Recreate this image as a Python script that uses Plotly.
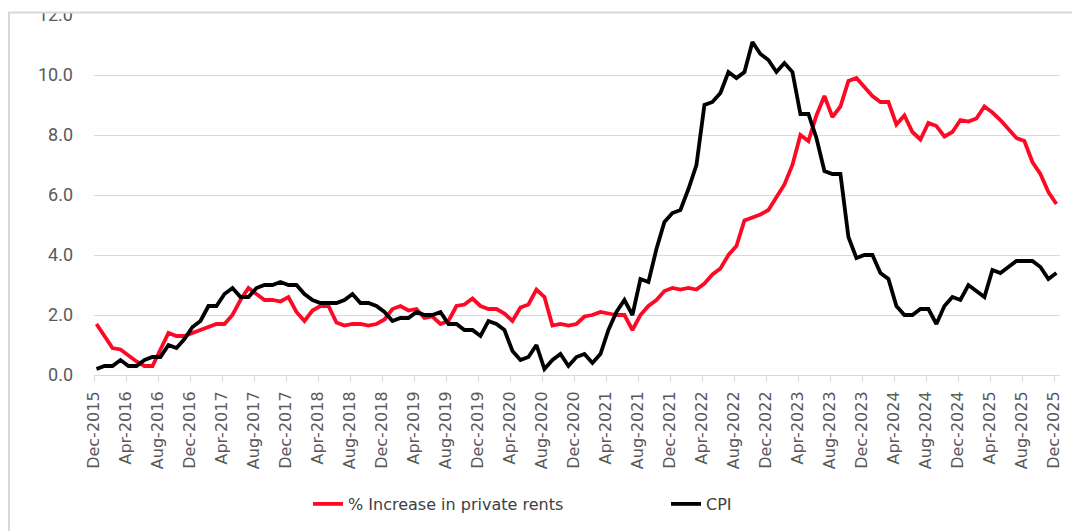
import plotly.graph_objects as go

# Monthly series, Dec-2015 .. Dec-2025 (121 months)
rents = [
    1.7, 1.3, 0.9, 0.85, 0.65, 0.45, 0.3, 0.3, 0.85, 1.4, 1.3, 1.3,
    1.4, 1.5, 1.6, 1.7, 1.7, 2.0, 2.5, 2.9, 2.7, 2.5, 2.5, 2.45,
    2.6, 2.1, 1.8, 2.15, 2.3, 2.3, 1.75, 1.65, 1.7, 1.7, 1.65, 1.7,
    1.85, 2.2, 2.3, 2.15, 2.2, 1.9, 1.95, 1.7, 1.8, 2.3, 2.35, 2.55,
    2.3, 2.2, 2.2, 2.05, 1.8, 2.25, 2.35, 2.85, 2.6, 1.65, 1.7, 1.65,
    1.7, 1.95, 2.0, 2.1, 2.05, 2.0, 2.0, 1.5, 2.0, 2.3, 2.5, 2.8,
    2.9, 2.85, 2.9, 2.85, 3.05, 3.35, 3.55, 4.0, 4.3, 5.15, 5.25, 5.35,
    5.5, 5.9, 6.35, 7.0, 8.0, 7.8, 8.65, 9.3, 8.6, 8.95, 9.8, 9.9,
    9.6, 9.3, 9.1, 9.1, 8.35, 8.65, 8.1, 7.85, 8.4, 8.3, 7.95, 8.1,
    8.5, 8.45, 8.55, 8.95, 8.75, 8.5, 8.2, 7.9, 7.8, 7.1, 6.7, 6.1,
    5.7,
]
cpi = [
    0.2, 0.3, 0.3, 0.5, 0.3, 0.3, 0.5, 0.6, 0.6, 1.0, 0.9, 1.2,
    1.6, 1.8, 2.3, 2.3, 2.7, 2.9, 2.6, 2.6, 2.9, 3.0, 3.0, 3.1,
    3.0, 3.0, 2.7, 2.5, 2.4, 2.4, 2.4, 2.5, 2.7, 2.4, 2.4, 2.3,
    2.1, 1.8, 1.9, 1.9, 2.1, 2.0, 2.0, 2.1, 1.7, 1.7, 1.5, 1.5,
    1.3, 1.8, 1.7, 1.5, 0.8, 0.5, 0.6, 1.0, 0.2, 0.5, 0.7, 0.3,
    0.6, 0.7, 0.4, 0.7, 1.5, 2.1, 2.5, 2.0, 3.2, 3.1, 4.2, 5.1,
    5.4, 5.5, 6.2, 7.0, 9.0, 9.1, 9.4, 10.1, 9.9, 10.1, 11.1, 10.7,
    10.5, 10.1, 10.4, 10.1, 8.7, 8.7, 7.9, 6.8, 6.7, 6.7, 4.6, 3.9,
    4.0, 4.0, 3.4, 3.2, 2.3, 2.0, 2.0, 2.2, 2.2, 1.7, 2.3, 2.6,
    2.5, 3.0, 2.8, 2.6, 3.5, 3.4, 3.6, 3.8, 3.8, 3.8, 3.6, 3.2,
    3.4,
]
tick_labels = [
    "Dec-2015", "Apr-2016", "Aug-2016", "Dec-2016", "Apr-2017", "Aug-2017",
    "Dec-2017", "Apr-2018", "Aug-2018", "Dec-2018", "Apr-2019", "Aug-2019",
    "Dec-2019", "Apr-2020", "Aug-2020", "Dec-2020", "Apr-2021", "Aug-2021",
    "Dec-2021", "Apr-2022", "Aug-2022", "Dec-2022", "Apr-2023", "Aug-2023",
    "Dec-2023", "Apr-2024", "Aug-2024", "Dec-2024", "Apr-2025", "Aug-2025",
    "Dec-2025",
]
y_ticks = [0, 2, 4, 6, 8, 10, 12]

months = list(range(len(cpi)))
tick_pos = [4 * k - 0.3 for k in range(len(tick_labels))]

OFF = 8  # page body margin
W, H = 1080 - OFF, 531 - OFF
L, R, T, B = 94 - OFF, 20, 15 - OFF, 156
pw, ph = W - L - R, H - T - B


def px_x(p):  # page pixel -> paper x
    return (p - OFF - L) / pw


def px_y(p):  # page pixel -> paper y
    return (H - B - (p - OFF)) / ph


fig = go.Figure()
fig.add_trace(go.Scatter(
    x=months, y=rents, mode="lines", name="% Increase in private rents",
    line=dict(color="#FF0826", width=3.8),
))
fig.add_trace(go.Scatter(
    x=months, y=cpi, mode="lines", name="CPI",
    line=dict(color="#000000", width=3.8),
))

fig.update_layout(
    width=W, height=H,
    margin=dict(l=L, r=R, t=T, b=B, autoexpand=False),
    paper_bgcolor="white", plot_bgcolor="white",
    showlegend=True,
    legend=dict(
        orientation="h", x=px_x(308), xanchor="left", y=px_y(504), yanchor="middle",
        font=dict(family="DejaVu Sans", size=16, color="#404040"),
        entrywidth=313, entrywidthmode="pixels", bgcolor="rgba(0,0,0,0)",
    ),
    xaxis=dict(
        range=[-0.31, 120.45], tickmode="array", tickvals=tick_pos, ticktext=tick_labels,
        tickangle=-90, showgrid=False, zeroline=False,
        showline=True, linecolor="#D9D9D9", linewidth=1,
        ticks="outside", ticklen=6, tickcolor="#D9D9D9", tickwidth=1,
        ticklabelstandoff=3,
        tickfont=dict(family="DejaVu Sans", size=16, color="#595959"),
    ),
    yaxis=dict(
        range=[0, 12], tickmode="array", tickvals=y_ticks,
        ticktext=[f"{v:.1f}" for v in y_ticks],
        showgrid=True, gridcolor="#D9D9D9", gridwidth=1, zeroline=False,
        showline=False, ticks="", ticklabelstandoff=20, ticklabeloverflow="allow",
        tickfont=dict(family="Roboto, Liberation Sans", size=18, color="#595959"),
    ),
    shapes=[
        dict(type="rect", xref="paper", yref="paper", layer="above",
             x0=px_x(0), x1=px_x(1100), y0=px_y(12), y1=px_y(-10),
             fillcolor="white", line=dict(width=0)),
        dict(type="line", xref="paper", yref="paper", layer="above",
             x0=px_x(8), x1=px_x(1100), y0=px_y(12.5), y1=px_y(12.5),
             line=dict(color="#D9D9D9", width=2)),
        dict(type="line", xref="paper", yref="paper", layer="above",
             x0=px_x(9), x1=px_x(9), y0=px_y(12.5), y1=px_y(560),
             line=dict(color="#D9D9D9", width=2)),
    ],
)

fig.write_html("out.html")
